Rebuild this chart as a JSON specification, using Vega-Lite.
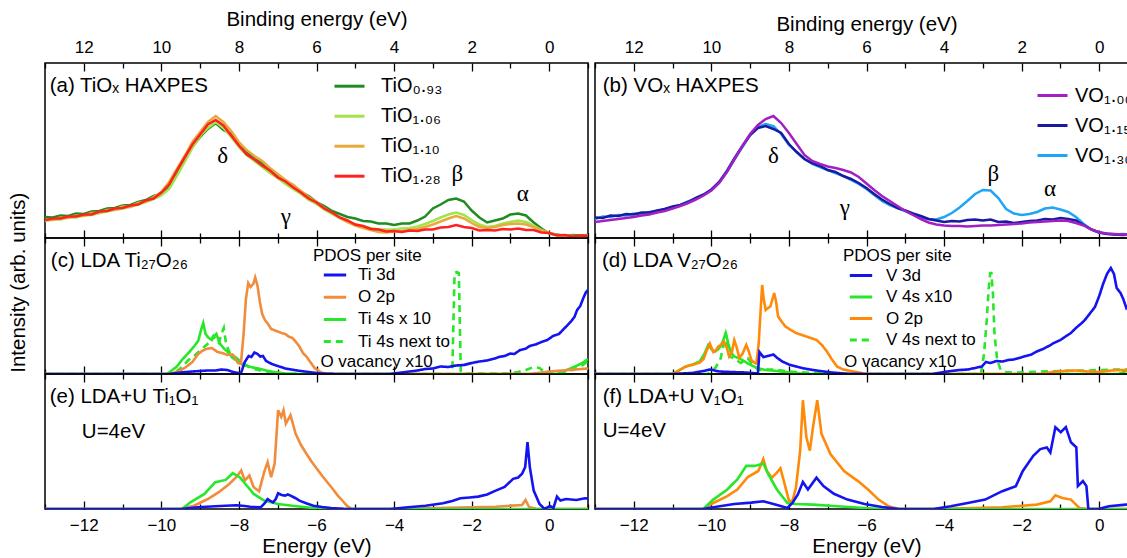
{
"$schema":"https://vega.github.io/schema/vega-lite/v6.json",
"background":"white",
"padding":{"left":9,"top":8,"right":0,"bottom":0},
"title":{"text":"Intensity (arb. units)","orient":"left","anchor":"middle","fontSize":20.5,"fontWeight":"normal","font":"Liberation Sans","color":"#000","offset":14},
"config":{
"font":"Liberation Sans",
"view":{"stroke":"#000","strokeWidth":1.5},
"axis":{"labelFont":"Liberation Sans","titleFont":"Liberation Sans","labelColor":"#000","titleColor":"#000","titleFontWeight":"normal","tickColor":"#000","tickWidth":1.3,"grid":false,"domain":false,"labelFontSize":17,"titleFontSize":20.5},
"legend":{"labelFont":"Liberation Sans","titleFont":"Liberation Sans","labelColor":"#000","titleColor":"#000","titleFontWeight":"normal","padding":0,"offset":0},
"text":{"color":"#000"}
},
"datasets":{
"notes":[
{"p":"a","k":"title","x":-12.88,"y":152,"t":"(a) TiOₓ HAXPES"},
{"p":"a","k":"greek","x":-8.42,"y":82,"t":"δ"},
{"p":"a","k":"greek","x":-6.79,"y":21,"t":"γ"},
{"p":"a","k":"greek","x":-2.37,"y":64,"t":"β"},
{"p":"a","k":"greek","x":-0.68,"y":44,"t":"α"},
{"p":"b","k":"title","x":-12.8,"y":152,"t":"(b) VOₓ HAXPES"},
{"p":"b","k":"greek","x":-8.4,"y":82,"t":"δ"},
{"p":"b","k":"greek","x":-6.56,"y":30,"t":"γ"},
{"p":"b","k":"greek","x":-2.73,"y":64,"t":"β"},
{"p":"b","k":"greek","x":-1.27,"y":49,"t":"α"},
{"p":"c","k":"title","x":-12.85,"y":113,"t":"(c) LDA Ti₂₇O₂₆"},
{"p":"c","k":"note","x":-5.9,"y":12.5,"t":"O vacancy x10"},
{"p":"d","k":"title","x":-12.82,"y":113,"t":"(d) LDA V₂₇O₂₆"},
{"p":"d","k":"note","x":-6.58,"y":12.5,"t":"O vacancy x10"},
{"p":"e","k":"title","x":-12.88,"y":112,"t":"(e) LDA+U Ti₁O₁"},
{"p":"e","k":"note","x":-12.05,"y":77,"t":"U=4eV"},
{"p":"f","k":"title","x":-12.8,"y":112,"t":"(f) LDA+U V₁O₁"},
{"p":"f","k":"note","x":-12.8,"y":78,"t":"U=4eV"}
],
"a":[
{"s":"TiO₀.₉₃","x":-13.0,"y":21},{"s":"TiO₀.₉₃","x":-12.8,"y":20.5},{"s":"TiO₀.₉₃","x":-12.6,"y":22.5},{"s":"TiO₀.₉₃","x":-12.4,"y":22},{"s":"TiO₀.₉₃","x":-12.2,"y":24.5},{"s":"TiO₀.₉₃","x":-12.0,"y":24},{"s":"TiO₀.₉₃","x":-11.8,"y":26.5},{"s":"TiO₀.₉₃","x":-11.6,"y":27},{"s":"TiO₀.₉₃","x":-11.4,"y":29.5},{"s":"TiO₀.₉₃","x":-11.2,"y":30},{"s":"TiO₀.₉₃","x":-11.0,"y":32.5},{"s":"TiO₀.₉₃","x":-10.8,"y":33},{"s":"TiO₀.₉₃","x":-10.6,"y":36},{"s":"TiO₀.₉₃","x":-10.4,"y":38},{"s":"TiO₀.₉₃","x":-10.2,"y":42},{"s":"TiO₀.₉₃","x":-10.0,"y":44},{"s":"TiO₀.₉₃","x":-9.8,"y":50},{"s":"TiO₀.₉₃","x":-9.6,"y":63},{"s":"TiO₀.₉₃","x":-9.4,"y":77},{"s":"TiO₀.₉₃","x":-9.2,"y":91},{"s":"TiO₀.₉₃","x":-9.0,"y":101},{"s":"TiO₀.₉₃","x":-8.8,"y":109},{"s":"TiO₀.₉₃","x":-8.6,"y":115},{"s":"TiO₀.₉₃","x":-8.4,"y":108},{"s":"TiO₀.₉₃","x":-8.2,"y":104},{"s":"TiO₀.₉₃","x":-8.0,"y":92},{"s":"TiO₀.₉₃","x":-7.8,"y":86},{"s":"TiO₀.₉₃","x":-7.6,"y":79},{"s":"TiO₀.₉₃","x":-7.4,"y":75},{"s":"TiO₀.₉₃","x":-7.2,"y":68},{"s":"TiO₀.₉₃","x":-7.0,"y":63},{"s":"TiO₀.₉₃","x":-6.8,"y":57},{"s":"TiO₀.₉₃","x":-6.6,"y":53},{"s":"TiO₀.₉₃","x":-6.4,"y":46},{"s":"TiO₀.₉₃","x":-6.2,"y":42},{"s":"TiO₀.₉₃","x":-6.0,"y":36},{"s":"TiO₀.₉₃","x":-5.8,"y":32},{"s":"TiO₀.₉₃","x":-5.6,"y":27},{"s":"TiO₀.₉₃","x":-5.4,"y":24},{"s":"TiO₀.₉₃","x":-5.2,"y":21},{"s":"TiO₀.₉₃","x":-5.0,"y":19.5},{"s":"TiO₀.₉₃","x":-4.8,"y":17},{"s":"TiO₀.₉₃","x":-4.6,"y":16.5},{"s":"TiO₀.₉₃","x":-4.4,"y":14.5},{"s":"TiO₀.₉₃","x":-4.2,"y":14.5},{"s":"TiO₀.₉₃","x":-4.0,"y":13},{"s":"TiO₀.₉₃","x":-3.8,"y":14.5},{"s":"TiO₀.₉₃","x":-3.6,"y":14.5},{"s":"TiO₀.₉₃","x":-3.4,"y":17.5},{"s":"TiO₀.₉₃","x":-3.2,"y":21.5},{"s":"TiO₀.₉₃","x":-3.0,"y":29.5},{"s":"TiO₀.₉₃","x":-2.8,"y":33.5},{"s":"TiO₀.₉₃","x":-2.6,"y":38},{"s":"TiO₀.₉₃","x":-2.4,"y":39.5},{"s":"TiO₀.₉₃","x":-2.2,"y":36.5},{"s":"TiO₀.₉₃","x":-2.0,"y":27.5},{"s":"TiO₀.₉₃","x":-1.8,"y":20.5},{"s":"TiO₀.₉₃","x":-1.6,"y":15.5},{"s":"TiO₀.₉₃","x":-1.4,"y":17.5},{"s":"TiO₀.₉₃","x":-1.2,"y":19.5},{"s":"TiO₀.₉₃","x":-1.0,"y":23.5},{"s":"TiO₀.₉₃","x":-0.8,"y":24.5},{"s":"TiO₀.₉₃","x":-0.6,"y":22.5},{"s":"TiO₀.₉₃","x":-0.4,"y":15.5},{"s":"TiO₀.₉₃","x":-0.2,"y":9.5},{"s":"TiO₀.₉₃","x":0.0,"y":4.5},{"s":"TiO₀.₉₃","x":0.2,"y":3.5},{"s":"TiO₀.₉₃","x":0.4,"y":2},{"s":"TiO₀.₉₃","x":0.6,"y":3},{"s":"TiO₀.₉₃","x":0.8,"y":2.5},{"s":"TiO₀.₉₃","x":1.0,"y":3},
{"s":"TiO₁.₀₆","x":-13.0,"y":17},{"s":"TiO₁.₀₆","x":-12.8,"y":18.5},{"s":"TiO₁.₀₆","x":-12.6,"y":18.5},{"s":"TiO₁.₀₆","x":-12.4,"y":20.5},{"s":"TiO₁.₀₆","x":-12.2,"y":20.5},{"s":"TiO₁.₀₆","x":-12.0,"y":22.5},{"s":"TiO₁.₀₆","x":-11.8,"y":23},{"s":"TiO₁.₀₆","x":-11.6,"y":25},{"s":"TiO₁.₀₆","x":-11.4,"y":26.5},{"s":"TiO₁.₀₆","x":-11.2,"y":28},{"s":"TiO₁.₀₆","x":-11.0,"y":29.5},{"s":"TiO₁.₀₆","x":-10.8,"y":31},{"s":"TiO₁.₀₆","x":-10.6,"y":33.5},{"s":"TiO₁.₀₆","x":-10.4,"y":36},{"s":"TiO₁.₀₆","x":-10.2,"y":39},{"s":"TiO₁.₀₆","x":-10.0,"y":42.5},{"s":"TiO₁.₀₆","x":-9.8,"y":49},{"s":"TiO₁.₀₆","x":-9.6,"y":62},{"s":"TiO₁.₀₆","x":-9.4,"y":76},{"s":"TiO₁.₀₆","x":-9.2,"y":90},{"s":"TiO₁.₀₆","x":-9.0,"y":102},{"s":"TiO₁.₀₆","x":-8.8,"y":110},{"s":"TiO₁.₀₆","x":-8.6,"y":116},{"s":"TiO₁.₀₆","x":-8.4,"y":110},{"s":"TiO₁.₀₆","x":-8.2,"y":101},{"s":"TiO₁.₀₆","x":-8.0,"y":91},{"s":"TiO₁.₀₆","x":-7.8,"y":83},{"s":"TiO₁.₀₆","x":-7.6,"y":77},{"s":"TiO₁.₀₆","x":-7.4,"y":71},{"s":"TiO₁.₀₆","x":-7.2,"y":65},{"s":"TiO₁.₀₆","x":-7.0,"y":60},{"s":"TiO₁.₀₆","x":-6.8,"y":54},{"s":"TiO₁.₀₆","x":-6.6,"y":49},{"s":"TiO₁.₀₆","x":-6.4,"y":44},{"s":"TiO₁.₀₆","x":-6.2,"y":38},{"s":"TiO₁.₀₆","x":-6.0,"y":34},{"s":"TiO₁.₀₆","x":-5.8,"y":28.5},{"s":"TiO₁.₀₆","x":-5.6,"y":24},{"s":"TiO₁.₀₆","x":-5.4,"y":20},{"s":"TiO₁.₀₆","x":-5.2,"y":16.5},{"s":"TiO₁.₀₆","x":-5.0,"y":13.5},{"s":"TiO₁.₀₆","x":-4.8,"y":11.5},{"s":"TiO₁.₀₆","x":-4.6,"y":10},{"s":"TiO₁.₀₆","x":-4.4,"y":8.5},{"s":"TiO₁.₀₆","x":-4.2,"y":8.5},{"s":"TiO₁.₀₆","x":-4.0,"y":8.5},{"s":"TiO₁.₀₆","x":-3.8,"y":9.5},{"s":"TiO₁.₀₆","x":-3.6,"y":10},{"s":"TiO₁.₀₆","x":-3.4,"y":11.5},{"s":"TiO₁.₀₆","x":-3.2,"y":14},{"s":"TiO₁.₀₆","x":-3.0,"y":17},{"s":"TiO₁.₀₆","x":-2.8,"y":20.5},{"s":"TiO₁.₀₆","x":-2.6,"y":23.5},{"s":"TiO₁.₀₆","x":-2.4,"y":25.5},{"s":"TiO₁.₀₆","x":-2.2,"y":23},{"s":"TiO₁.₀₆","x":-2.0,"y":18},{"s":"TiO₁.₀₆","x":-1.8,"y":13.5},{"s":"TiO₁.₀₆","x":-1.6,"y":11},{"s":"TiO₁.₀₆","x":-1.4,"y":12},{"s":"TiO₁.₀₆","x":-1.2,"y":14.5},{"s":"TiO₁.₀₆","x":-1.0,"y":16},{"s":"TiO₁.₀₆","x":-0.8,"y":17.5},{"s":"TiO₁.₀₆","x":-0.6,"y":16},{"s":"TiO₁.₀₆","x":-0.4,"y":12.5},{"s":"TiO₁.₀₆","x":-0.2,"y":8},{"s":"TiO₁.₀₆","x":0.0,"y":5},{"s":"TiO₁.₀₆","x":0.2,"y":3},{"s":"TiO₁.₀₆","x":0.4,"y":2},{"s":"TiO₁.₀₆","x":0.6,"y":2},{"s":"TiO₁.₀₆","x":0.8,"y":1.5},{"s":"TiO₁.₀₆","x":1.0,"y":2},
{"s":"TiO₁.₁₀","x":-13.0,"y":18},{"s":"TiO₁.₁₀","x":-12.8,"y":18},{"s":"TiO₁.₁₀","x":-12.6,"y":20.5},{"s":"TiO₁.₁₀","x":-12.4,"y":20},{"s":"TiO₁.₁₀","x":-12.2,"y":22.5},{"s":"TiO₁.₁₀","x":-12.0,"y":22},{"s":"TiO₁.₁₀","x":-11.8,"y":25},{"s":"TiO₁.₁₀","x":-11.6,"y":25.5},{"s":"TiO₁.₁₀","x":-11.4,"y":28},{"s":"TiO₁.₁₀","x":-11.2,"y":28.5},{"s":"TiO₁.₁₀","x":-11.0,"y":31.5},{"s":"TiO₁.₁₀","x":-10.8,"y":31.5},{"s":"TiO₁.₁₀","x":-10.6,"y":35},{"s":"TiO₁.₁₀","x":-10.4,"y":36.5},{"s":"TiO₁.₁₀","x":-10.2,"y":41},{"s":"TiO₁.₁₀","x":-10.0,"y":46},{"s":"TiO₁.₁₀","x":-9.8,"y":56},{"s":"TiO₁.₁₀","x":-9.6,"y":69},{"s":"TiO₁.₁₀","x":-9.4,"y":82},{"s":"TiO₁.₁₀","x":-9.2,"y":96},{"s":"TiO₁.₁₀","x":-9.0,"y":106},{"s":"TiO₁.₁₀","x":-8.8,"y":116},{"s":"TiO₁.₁₀","x":-8.6,"y":122},{"s":"TiO₁.₁₀","x":-8.4,"y":116},{"s":"TiO₁.₁₀","x":-8.2,"y":107},{"s":"TiO₁.₁₀","x":-8.0,"y":96},{"s":"TiO₁.₁₀","x":-7.8,"y":88},{"s":"TiO₁.₁₀","x":-7.6,"y":82},{"s":"TiO₁.₁₀","x":-7.4,"y":77},{"s":"TiO₁.₁₀","x":-7.2,"y":70},{"s":"TiO₁.₁₀","x":-7.0,"y":64},{"s":"TiO₁.₁₀","x":-6.8,"y":58},{"s":"TiO₁.₁₀","x":-6.6,"y":53},{"s":"TiO₁.₁₀","x":-6.4,"y":47},{"s":"TiO₁.₁₀","x":-6.2,"y":41},{"s":"TiO₁.₁₀","x":-6.0,"y":36},{"s":"TiO₁.₁₀","x":-5.8,"y":30},{"s":"TiO₁.₁₀","x":-5.6,"y":25},{"s":"TiO₁.₁₀","x":-5.4,"y":20},{"s":"TiO₁.₁₀","x":-5.2,"y":16},{"s":"TiO₁.₁₀","x":-5.0,"y":12.5},{"s":"TiO₁.₁₀","x":-4.8,"y":10},{"s":"TiO₁.₁₀","x":-4.6,"y":8},{"s":"TiO₁.₁₀","x":-4.4,"y":6},{"s":"TiO₁.₁₀","x":-4.2,"y":5.5},{"s":"TiO₁.₁₀","x":-4.0,"y":6.5},{"s":"TiO₁.₁₀","x":-3.8,"y":7},{"s":"TiO₁.₁₀","x":-3.6,"y":8},{"s":"TiO₁.₁₀","x":-3.4,"y":9},{"s":"TiO₁.₁₀","x":-3.2,"y":11},{"s":"TiO₁.₁₀","x":-3.0,"y":13.5},{"s":"TiO₁.₁₀","x":-2.8,"y":16.5},{"s":"TiO₁.₁₀","x":-2.6,"y":19.5},{"s":"TiO₁.₁₀","x":-2.4,"y":22},{"s":"TiO₁.₁₀","x":-2.2,"y":19.5},{"s":"TiO₁.₁₀","x":-2.0,"y":15},{"s":"TiO₁.₁₀","x":-1.8,"y":11},{"s":"TiO₁.₁₀","x":-1.6,"y":10},{"s":"TiO₁.₁₀","x":-1.4,"y":11},{"s":"TiO₁.₁₀","x":-1.2,"y":13},{"s":"TiO₁.₁₀","x":-1.0,"y":14},{"s":"TiO₁.₁₀","x":-0.8,"y":14.5},{"s":"TiO₁.₁₀","x":-0.6,"y":13.5},{"s":"TiO₁.₁₀","x":-0.4,"y":11},{"s":"TiO₁.₁₀","x":-0.2,"y":7.5},{"s":"TiO₁.₁₀","x":0.0,"y":5},{"s":"TiO₁.₁₀","x":0.2,"y":3},{"s":"TiO₁.₁₀","x":0.4,"y":2.5},{"s":"TiO₁.₁₀","x":0.6,"y":2},{"s":"TiO₁.₁₀","x":0.8,"y":2},{"s":"TiO₁.₁₀","x":1.0,"y":2.5},
{"s":"TiO₁.₂₈","x":-13.0,"y":18},{"s":"TiO₁.₂₈","x":-12.8,"y":19.5},{"s":"TiO₁.₂₈","x":-12.6,"y":19.5},{"s":"TiO₁.₂₈","x":-12.4,"y":21.5},{"s":"TiO₁.₂₈","x":-12.2,"y":21.5},{"s":"TiO₁.₂₈","x":-12.0,"y":23.5},{"s":"TiO₁.₂₈","x":-11.8,"y":23.5},{"s":"TiO₁.₂₈","x":-11.6,"y":26.5},{"s":"TiO₁.₂₈","x":-11.4,"y":27},{"s":"TiO₁.₂₈","x":-11.2,"y":29.5},{"s":"TiO₁.₂₈","x":-11.0,"y":30},{"s":"TiO₁.₂₈","x":-10.8,"y":32.5},{"s":"TiO₁.₂₈","x":-10.6,"y":33.5},{"s":"TiO₁.₂₈","x":-10.4,"y":37.5},{"s":"TiO₁.₂₈","x":-10.2,"y":39.5},{"s":"TiO₁.₂₈","x":-10.0,"y":45.5},{"s":"TiO₁.₂₈","x":-9.8,"y":53.5},{"s":"TiO₁.₂₈","x":-9.6,"y":67.5},{"s":"TiO₁.₂₈","x":-9.4,"y":80.5},{"s":"TiO₁.₂₈","x":-9.2,"y":93.5},{"s":"TiO₁.₂₈","x":-9.0,"y":103.5},{"s":"TiO₁.₂₈","x":-8.8,"y":113.5},{"s":"TiO₁.₂₈","x":-8.6,"y":118},{"s":"TiO₁.₂₈","x":-8.4,"y":112.5},{"s":"TiO₁.₂₈","x":-8.2,"y":102.5},{"s":"TiO₁.₂₈","x":-8.0,"y":92.5},{"s":"TiO₁.₂₈","x":-7.8,"y":83.5},{"s":"TiO₁.₂₈","x":-7.6,"y":78.5},{"s":"TiO₁.₂₈","x":-7.4,"y":72.5},{"s":"TiO₁.₂₈","x":-7.2,"y":67.5},{"s":"TiO₁.₂₈","x":-7.0,"y":60.5},{"s":"TiO₁.₂₈","x":-6.8,"y":56.5},{"s":"TiO₁.₂₈","x":-6.6,"y":50.5},{"s":"TiO₁.₂₈","x":-6.4,"y":45.5},{"s":"TiO₁.₂₈","x":-6.2,"y":39.5},{"s":"TiO₁.₂₈","x":-6.0,"y":35.5},{"s":"TiO₁.₂₈","x":-5.8,"y":29.5},{"s":"TiO₁.₂₈","x":-5.6,"y":25.5},{"s":"TiO₁.₂₈","x":-5.4,"y":20.5},{"s":"TiO₁.₂₈","x":-5.2,"y":17.5},{"s":"TiO₁.₂₈","x":-5.0,"y":13.5},{"s":"TiO₁.₂₈","x":-4.8,"y":12},{"s":"TiO₁.₂₈","x":-4.6,"y":9},{"s":"TiO₁.₂₈","x":-4.4,"y":8.5},{"s":"TiO₁.₂₈","x":-4.2,"y":6.5},{"s":"TiO₁.₂₈","x":-4.0,"y":7},{"s":"TiO₁.₂₈","x":-3.8,"y":6},{"s":"TiO₁.₂₈","x":-3.6,"y":7.5},{"s":"TiO₁.₂₈","x":-3.4,"y":7},{"s":"TiO₁.₂₈","x":-3.2,"y":8.5},{"s":"TiO₁.₂₈","x":-3.0,"y":8.5},{"s":"TiO₁.₂₈","x":-2.8,"y":10.5},{"s":"TiO₁.₂₈","x":-2.6,"y":11},{"s":"TiO₁.₂₈","x":-2.4,"y":13},{"s":"TiO₁.₂₈","x":-2.2,"y":11},{"s":"TiO₁.₂₈","x":-2.0,"y":10},{"s":"TiO₁.₂₈","x":-1.8,"y":7.5},{"s":"TiO₁.₂₈","x":-1.6,"y":8},{"s":"TiO₁.₂₈","x":-1.4,"y":7.5},{"s":"TiO₁.₂₈","x":-1.2,"y":9},{"s":"TiO₁.₂₈","x":-1.0,"y":8.5},{"s":"TiO₁.₂₈","x":-0.8,"y":9.5},{"s":"TiO₁.₂₈","x":-0.6,"y":8},{"s":"TiO₁.₂₈","x":-0.4,"y":8},{"s":"TiO₁.₂₈","x":-0.2,"y":5.5},{"s":"TiO₁.₂₈","x":0.0,"y":5},{"s":"TiO₁.₂₈","x":0.2,"y":2.5},{"s":"TiO₁.₂₈","x":0.4,"y":3},{"s":"TiO₁.₂₈","x":0.6,"y":1.5},{"s":"TiO₁.₂₈","x":0.8,"y":2.5},{"s":"TiO₁.₂₈","x":1.0,"y":2}
],
"b":[
{"s":"VO₁.₃₀","x":-13.0,"y":19},{"s":"VO₁.₃₀","x":-12.8,"y":21.5},{"s":"VO₁.₃₀","x":-12.6,"y":21},{"s":"VO₁.₃₀","x":-12.4,"y":23},{"s":"VO₁.₃₀","x":-12.2,"y":22.5},{"s":"VO₁.₃₀","x":-12.0,"y":24.5},{"s":"VO₁.₃₀","x":-11.8,"y":24},{"s":"VO₁.₃₀","x":-11.6,"y":26},{"s":"VO₁.₃₀","x":-11.4,"y":26.5},{"s":"VO₁.₃₀","x":-11.2,"y":29},{"s":"VO₁.₃₀","x":-11.0,"y":30.5},{"s":"VO₁.₃₀","x":-10.8,"y":33},{"s":"VO₁.₃₀","x":-10.6,"y":36.5},{"s":"VO₁.₃₀","x":-10.4,"y":39.5},{"s":"VO₁.₃₀","x":-10.2,"y":43},{"s":"VO₁.₃₀","x":-10.0,"y":48},{"s":"VO₁.₃₀","x":-9.8,"y":55},{"s":"VO₁.₃₀","x":-9.6,"y":66},{"s":"VO₁.₃₀","x":-9.4,"y":79},{"s":"VO₁.₃₀","x":-9.2,"y":91},{"s":"VO₁.₃₀","x":-9.0,"y":103},{"s":"VO₁.₃₀","x":-8.8,"y":111},{"s":"VO₁.₃₀","x":-8.6,"y":114},{"s":"VO₁.₃₀","x":-8.4,"y":112},{"s":"VO₁.₃₀","x":-8.2,"y":104},{"s":"VO₁.₃₀","x":-8.0,"y":93},{"s":"VO₁.₃₀","x":-7.8,"y":86},{"s":"VO₁.₃₀","x":-7.6,"y":79},{"s":"VO₁.₃₀","x":-7.4,"y":74},{"s":"VO₁.₃₀","x":-7.2,"y":71},{"s":"VO₁.₃₀","x":-7.0,"y":68},{"s":"VO₁.₃₀","x":-6.8,"y":65},{"s":"VO₁.₃₀","x":-6.6,"y":62},{"s":"VO₁.₃₀","x":-6.4,"y":58},{"s":"VO₁.₃₀","x":-6.2,"y":54},{"s":"VO₁.₃₀","x":-6.0,"y":49},{"s":"VO₁.₃₀","x":-5.8,"y":43},{"s":"VO₁.₃₀","x":-5.6,"y":37},{"s":"VO₁.₃₀","x":-5.4,"y":33},{"s":"VO₁.₃₀","x":-5.2,"y":30},{"s":"VO₁.₃₀","x":-5.0,"y":27},{"s":"VO₁.₃₀","x":-4.8,"y":23.5},{"s":"VO₁.₃₀","x":-4.6,"y":20.5},{"s":"VO₁.₃₀","x":-4.4,"y":19},{"s":"VO₁.₃₀","x":-4.2,"y":18.5},{"s":"VO₁.₃₀","x":-4.0,"y":21},{"s":"VO₁.₃₀","x":-3.8,"y":25},{"s":"VO₁.₃₀","x":-3.6,"y":30.5},{"s":"VO₁.₃₀","x":-3.4,"y":37},{"s":"VO₁.₃₀","x":-3.2,"y":44},{"s":"VO₁.₃₀","x":-3.0,"y":48},{"s":"VO₁.₃₀","x":-2.8,"y":47.5},{"s":"VO₁.₃₀","x":-2.6,"y":40},{"s":"VO₁.₃₀","x":-2.4,"y":29},{"s":"VO₁.₃₀","x":-2.2,"y":24.5},{"s":"VO₁.₃₀","x":-2.0,"y":23},{"s":"VO₁.₃₀","x":-1.8,"y":24},{"s":"VO₁.₃₀","x":-1.6,"y":26},{"s":"VO₁.₃₀","x":-1.4,"y":29.5},{"s":"VO₁.₃₀","x":-1.2,"y":30.5},{"s":"VO₁.₃₀","x":-1.0,"y":28.5},{"s":"VO₁.₃₀","x":-0.8,"y":26},{"s":"VO₁.₃₀","x":-0.6,"y":21},{"s":"VO₁.₃₀","x":-0.4,"y":14},{"s":"VO₁.₃₀","x":-0.2,"y":8.5},{"s":"VO₁.₃₀","x":0.0,"y":5.5},{"s":"VO₁.₃₀","x":0.2,"y":4.5},{"s":"VO₁.₃₀","x":0.4,"y":3.5},{"s":"VO₁.₃₀","x":0.6,"y":4},{"s":"VO₁.₃₀","x":0.8,"y":3.5},{"s":"VO₁.₃₀","x":1.0,"y":3},
{"s":"VO₁.₁₅","x":-13.0,"y":20.5},{"s":"VO₁.₁₅","x":-12.8,"y":20},{"s":"VO₁.₁₅","x":-12.6,"y":22.5},{"s":"VO₁.₁₅","x":-12.4,"y":22},{"s":"VO₁.₁₅","x":-12.2,"y":24},{"s":"VO₁.₁₅","x":-12.0,"y":23.5},{"s":"VO₁.₁₅","x":-11.8,"y":25.5},{"s":"VO₁.₁₅","x":-11.6,"y":25.5},{"s":"VO₁.₁₅","x":-11.4,"y":27.5},{"s":"VO₁.₁₅","x":-11.2,"y":29},{"s":"VO₁.₁₅","x":-11.0,"y":31.5},{"s":"VO₁.₁₅","x":-10.8,"y":33},{"s":"VO₁.₁₅","x":-10.6,"y":36},{"s":"VO₁.₁₅","x":-10.4,"y":40},{"s":"VO₁.₁₅","x":-10.2,"y":43.5},{"s":"VO₁.₁₅","x":-10.0,"y":48.5},{"s":"VO₁.₁₅","x":-9.8,"y":56},{"s":"VO₁.₁₅","x":-9.6,"y":67},{"s":"VO₁.₁₅","x":-9.4,"y":80},{"s":"VO₁.₁₅","x":-9.2,"y":92},{"s":"VO₁.₁₅","x":-9.0,"y":103},{"s":"VO₁.₁₅","x":-8.8,"y":110},{"s":"VO₁.₁₅","x":-8.6,"y":112},{"s":"VO₁.₁₅","x":-8.4,"y":109},{"s":"VO₁.₁₅","x":-8.2,"y":105},{"s":"VO₁.₁₅","x":-8.0,"y":94},{"s":"VO₁.₁₅","x":-7.8,"y":86},{"s":"VO₁.₁₅","x":-7.6,"y":79},{"s":"VO₁.₁₅","x":-7.4,"y":75},{"s":"VO₁.₁₅","x":-7.2,"y":72},{"s":"VO₁.₁₅","x":-7.0,"y":68},{"s":"VO₁.₁₅","x":-6.8,"y":66},{"s":"VO₁.₁₅","x":-6.6,"y":62},{"s":"VO₁.₁₅","x":-6.4,"y":59},{"s":"VO₁.₁₅","x":-6.2,"y":55},{"s":"VO₁.₁₅","x":-6.0,"y":50},{"s":"VO₁.₁₅","x":-5.8,"y":44},{"s":"VO₁.₁₅","x":-5.6,"y":38.5},{"s":"VO₁.₁₅","x":-5.4,"y":34},{"s":"VO₁.₁₅","x":-5.2,"y":30},{"s":"VO₁.₁₅","x":-5.0,"y":27.5},{"s":"VO₁.₁₅","x":-4.8,"y":24.5},{"s":"VO₁.₁₅","x":-4.6,"y":22},{"s":"VO₁.₁₅","x":-4.4,"y":19},{"s":"VO₁.₁₅","x":-4.2,"y":17.5},{"s":"VO₁.₁₅","x":-4.0,"y":16},{"s":"VO₁.₁₅","x":-3.8,"y":17},{"s":"VO₁.₁₅","x":-3.6,"y":16.5},{"s":"VO₁.₁₅","x":-3.4,"y":18},{"s":"VO₁.₁₅","x":-3.2,"y":18.5},{"s":"VO₁.₁₅","x":-3.0,"y":17.5},{"s":"VO₁.₁₅","x":-2.8,"y":18.5},{"s":"VO₁.₁₅","x":-2.6,"y":16},{"s":"VO₁.₁₅","x":-2.4,"y":16.5},{"s":"VO₁.₁₅","x":-2.2,"y":15},{"s":"VO₁.₁₅","x":-2.0,"y":16},{"s":"VO₁.₁₅","x":-1.8,"y":17},{"s":"VO₁.₁₅","x":-1.6,"y":17.5},{"s":"VO₁.₁₅","x":-1.4,"y":19},{"s":"VO₁.₁₅","x":-1.2,"y":18.5},{"s":"VO₁.₁₅","x":-1.0,"y":20},{"s":"VO₁.₁₅","x":-0.8,"y":19},{"s":"VO₁.₁₅","x":-0.6,"y":17.5},{"s":"VO₁.₁₅","x":-0.4,"y":13},{"s":"VO₁.₁₅","x":-0.2,"y":8.5},{"s":"VO₁.₁₅","x":0.0,"y":5.5},{"s":"VO₁.₁₅","x":0.2,"y":4},{"s":"VO₁.₁₅","x":0.4,"y":3.5},{"s":"VO₁.₁₅","x":0.6,"y":3},{"s":"VO₁.₁₅","x":0.8,"y":3.5},{"s":"VO₁.₁₅","x":1.0,"y":3},
{"s":"VO₁.₀₀","x":-13.0,"y":16},{"s":"VO₁.₀₀","x":-12.8,"y":17},{"s":"VO₁.₀₀","x":-12.6,"y":18},{"s":"VO₁.₀₀","x":-12.4,"y":19},{"s":"VO₁.₀₀","x":-12.2,"y":20},{"s":"VO₁.₀₀","x":-12.0,"y":21},{"s":"VO₁.₀₀","x":-11.8,"y":22.5},{"s":"VO₁.₀₀","x":-11.6,"y":23.5},{"s":"VO₁.₀₀","x":-11.4,"y":25.5},{"s":"VO₁.₀₀","x":-11.2,"y":27},{"s":"VO₁.₀₀","x":-11.0,"y":29.5},{"s":"VO₁.₀₀","x":-10.8,"y":32},{"s":"VO₁.₀₀","x":-10.6,"y":35},{"s":"VO₁.₀₀","x":-10.4,"y":38.5},{"s":"VO₁.₀₀","x":-10.2,"y":42.5},{"s":"VO₁.₀₀","x":-10.0,"y":47.5},{"s":"VO₁.₀₀","x":-9.8,"y":55},{"s":"VO₁.₀₀","x":-9.6,"y":66},{"s":"VO₁.₀₀","x":-9.4,"y":79},{"s":"VO₁.₀₀","x":-9.2,"y":92},{"s":"VO₁.₀₀","x":-9.0,"y":104},{"s":"VO₁.₀₀","x":-8.8,"y":113},{"s":"VO₁.₀₀","x":-8.6,"y":119},{"s":"VO₁.₀₀","x":-8.4,"y":122},{"s":"VO₁.₀₀","x":-8.2,"y":115},{"s":"VO₁.₀₀","x":-8.0,"y":105},{"s":"VO₁.₀₀","x":-7.8,"y":94},{"s":"VO₁.₀₀","x":-7.6,"y":83},{"s":"VO₁.₀₀","x":-7.4,"y":77},{"s":"VO₁.₀₀","x":-7.2,"y":74},{"s":"VO₁.₀₀","x":-7.0,"y":71.5},{"s":"VO₁.₀₀","x":-6.8,"y":70},{"s":"VO₁.₀₀","x":-6.6,"y":68},{"s":"VO₁.₀₀","x":-6.4,"y":65.5},{"s":"VO₁.₀₀","x":-6.2,"y":61},{"s":"VO₁.₀₀","x":-6.0,"y":54.5},{"s":"VO₁.₀₀","x":-5.8,"y":48},{"s":"VO₁.₀₀","x":-5.6,"y":42},{"s":"VO₁.₀₀","x":-5.4,"y":37},{"s":"VO₁.₀₀","x":-5.2,"y":32},{"s":"VO₁.₀₀","x":-5.0,"y":27},{"s":"VO₁.₀₀","x":-4.8,"y":23},{"s":"VO₁.₀₀","x":-4.6,"y":19},{"s":"VO₁.₀₀","x":-4.4,"y":15.5},{"s":"VO₁.₀₀","x":-4.2,"y":13.5},{"s":"VO₁.₀₀","x":-4.0,"y":12.5},{"s":"VO₁.₀₀","x":-3.8,"y":12},{"s":"VO₁.₀₀","x":-3.6,"y":12},{"s":"VO₁.₀₀","x":-3.4,"y":11.5},{"s":"VO₁.₀₀","x":-3.2,"y":12},{"s":"VO₁.₀₀","x":-3.0,"y":12.5},{"s":"VO₁.₀₀","x":-2.8,"y":12.5},{"s":"VO₁.₀₀","x":-2.6,"y":13},{"s":"VO₁.₀₀","x":-2.4,"y":13.5},{"s":"VO₁.₀₀","x":-2.2,"y":14},{"s":"VO₁.₀₀","x":-2.0,"y":14.5},{"s":"VO₁.₀₀","x":-1.8,"y":15.5},{"s":"VO₁.₀₀","x":-1.6,"y":16},{"s":"VO₁.₀₀","x":-1.4,"y":16.5},{"s":"VO₁.₀₀","x":-1.2,"y":17},{"s":"VO₁.₀₀","x":-1.0,"y":17.5},{"s":"VO₁.₀₀","x":-0.8,"y":17},{"s":"VO₁.₀₀","x":-0.6,"y":15},{"s":"VO₁.₀₀","x":-0.4,"y":12.5},{"s":"VO₁.₀₀","x":-0.2,"y":8.5},{"s":"VO₁.₀₀","x":0.0,"y":5.5},{"s":"VO₁.₀₀","x":0.2,"y":4.5},{"s":"VO₁.₀₀","x":0.4,"y":4},{"s":"VO₁.₀₀","x":0.6,"y":3.5},{"s":"VO₁.₀₀","x":0.8,"y":3},{"s":"VO₁.₀₀","x":1.0,"y":3}
],
"c":[
{"s":"Ti 4s x 10","x":-13,"y":0},{"s":"Ti 4s x 10","x":-9.85,"y":0},{"s":"Ti 4s x 10","x":-9.6,"y":7.5},{"s":"Ti 4s x 10","x":-9.45,"y":15},{"s":"Ti 4s x 10","x":-9.3,"y":21},{"s":"Ti 4s x 10","x":-9.15,"y":28},{"s":"Ti 4s x 10","x":-9.05,"y":33},{"s":"Ti 4s x 10","x":-8.97,"y":45},{"s":"Ti 4s x 10","x":-8.92,"y":51},{"s":"Ti 4s x 10","x":-8.86,"y":40},{"s":"Ti 4s x 10","x":-8.78,"y":36},{"s":"Ti 4s x 10","x":-8.7,"y":34},{"s":"Ti 4s x 10","x":-8.63,"y":38},{"s":"Ti 4s x 10","x":-8.58,"y":40},{"s":"Ti 4s x 10","x":-8.5,"y":31},{"s":"Ti 4s x 10","x":-8.4,"y":26},{"s":"Ti 4s x 10","x":-8.3,"y":22.5},{"s":"Ti 4s x 10","x":-8.16,"y":16},{"s":"Ti 4s x 10","x":-8.0,"y":12},{"s":"Ti 4s x 10","x":-7.88,"y":9},{"s":"Ti 4s x 10","x":-7.7,"y":7},{"s":"Ti 4s x 10","x":-7.5,"y":5.5},{"s":"Ti 4s x 10","x":-7.3,"y":3.5},{"s":"Ti 4s x 10","x":-7.1,"y":2},{"s":"Ti 4s x 10","x":-6.8,"y":0.5},{"s":"Ti 4s x 10","x":-6.5,"y":0},{"s":"Ti 4s x 10","x":0.2,"y":0},{"s":"Ti 4s x 10","x":0.45,"y":4},{"s":"Ti 4s x 10","x":0.7,"y":8},{"s":"Ti 4s x 10","x":0.85,"y":11},{"s":"Ti 4s x 10","x":1.0,"y":15},
{"s":"Ti 4s next to","x":-13,"y":0},{"s":"Ti 4s next to","x":-9.7,"y":0},{"s":"Ti 4s next to","x":-9.5,"y":6},{"s":"Ti 4s next to","x":-9.3,"y":14},{"s":"Ti 4s next to","x":-9.1,"y":20},{"s":"Ti 4s next to","x":-8.9,"y":27},{"s":"Ti 4s next to","x":-8.75,"y":32},{"s":"Ti 4s next to","x":-8.66,"y":38},{"s":"Ti 4s next to","x":-8.58,"y":33},{"s":"Ti 4s next to","x":-8.52,"y":31},{"s":"Ti 4s next to","x":-8.45,"y":40},{"s":"Ti 4s next to","x":-8.39,"y":46},{"s":"Ti 4s next to","x":-8.33,"y":30},{"s":"Ti 4s next to","x":-8.25,"y":22},{"s":"Ti 4s next to","x":-8.16,"y":19},{"s":"Ti 4s next to","x":-8.0,"y":14},{"s":"Ti 4s next to","x":-7.89,"y":11},{"s":"Ti 4s next to","x":-7.7,"y":6},{"s":"Ti 4s next to","x":-7.5,"y":4},{"s":"Ti 4s next to","x":-7.2,"y":2},{"s":"Ti 4s next to","x":-6.8,"y":0.5},{"s":"Ti 4s next to","x":-6.5,"y":0},{"s":"Ti 4s next to","x":-2.5,"y":0},{"s":"Ti 4s next to","x":-2.44,"y":101},{"s":"Ti 4s next to","x":-2.38,"y":102},{"s":"Ti 4s next to","x":-2.33,"y":101},{"s":"Ti 4s next to","x":-2.28,"y":3},{"s":"Ti 4s next to","x":-2.2,"y":0.5},{"s":"Ti 4s next to","x":-1.0,"y":0.5},{"s":"Ti 4s next to","x":-0.8,"y":2},{"s":"Ti 4s next to","x":-0.6,"y":4},{"s":"Ti 4s next to","x":-0.4,"y":7},{"s":"Ti 4s next to","x":-0.25,"y":6},{"s":"Ti 4s next to","x":-0.1,"y":1},{"s":"Ti 4s next to","x":0.2,"y":0},{"s":"Ti 4s next to","x":0.4,"y":2},{"s":"Ti 4s next to","x":0.6,"y":4},{"s":"Ti 4s next to","x":0.8,"y":7},{"s":"Ti 4s next to","x":1.0,"y":13},
{"s":"O 2p","x":-13,"y":0},{"s":"O 2p","x":-9.8,"y":0},{"s":"O 2p","x":-9.6,"y":2},{"s":"O 2p","x":-9.4,"y":6},{"s":"O 2p","x":-9.2,"y":12},{"s":"O 2p","x":-9.05,"y":20},{"s":"O 2p","x":-8.95,"y":23},{"s":"O 2p","x":-8.85,"y":25},{"s":"O 2p","x":-8.7,"y":26},{"s":"O 2p","x":-8.55,"y":22},{"s":"O 2p","x":-8.43,"y":21},{"s":"O 2p","x":-8.3,"y":19},{"s":"O 2p","x":-8.16,"y":19.5},{"s":"O 2p","x":-8.1,"y":16},{"s":"O 2p","x":-8.03,"y":11},{"s":"O 2p","x":-7.95,"y":10},{"s":"O 2p","x":-7.88,"y":40},{"s":"O 2p","x":-7.82,"y":75},{"s":"O 2p","x":-7.76,"y":91},{"s":"O 2p","x":-7.7,"y":87},{"s":"O 2p","x":-7.63,"y":90},{"s":"O 2p","x":-7.58,"y":96.5},{"s":"O 2p","x":-7.52,"y":88},{"s":"O 2p","x":-7.46,"y":72},{"s":"O 2p","x":-7.4,"y":60},{"s":"O 2p","x":-7.33,"y":54},{"s":"O 2p","x":-7.25,"y":50},{"s":"O 2p","x":-7.17,"y":45},{"s":"O 2p","x":-7.1,"y":44},{"s":"O 2p","x":-7.0,"y":42.5},{"s":"O 2p","x":-6.9,"y":41},{"s":"O 2p","x":-6.8,"y":40},{"s":"O 2p","x":-6.72,"y":37.5},{"s":"O 2p","x":-6.62,"y":36},{"s":"O 2p","x":-6.54,"y":32.5},{"s":"O 2p","x":-6.45,"y":28},{"s":"O 2p","x":-6.35,"y":21},{"s":"O 2p","x":-6.25,"y":17},{"s":"O 2p","x":-6.17,"y":12.5},{"s":"O 2p","x":-6.05,"y":6},{"s":"O 2p","x":-5.9,"y":2},{"s":"O 2p","x":-5.8,"y":0.5},{"s":"O 2p","x":-5.5,"y":0},{"s":"O 2p","x":-0.5,"y":0},{"s":"O 2p","x":0,"y":2.5},{"s":"O 2p","x":0.5,"y":4},{"s":"O 2p","x":1.0,"y":5.5},
{"s":"Ti 3d","x":-13,"y":0},{"s":"Ti 3d","x":-9.8,"y":0},{"s":"Ti 3d","x":-9.5,"y":1.5},{"s":"Ti 3d","x":-9.2,"y":2.5},{"s":"Ti 3d","x":-9.0,"y":3},{"s":"Ti 3d","x":-8.8,"y":3.5},{"s":"Ti 3d","x":-8.6,"y":3.5},{"s":"Ti 3d","x":-8.45,"y":4.5},{"s":"Ti 3d","x":-8.3,"y":4},{"s":"Ti 3d","x":-8.15,"y":2},{"s":"Ti 3d","x":-7.95,"y":0.5},{"s":"Ti 3d","x":-7.85,"y":12},{"s":"Ti 3d","x":-7.75,"y":18},{"s":"Ti 3d","x":-7.68,"y":17},{"s":"Ti 3d","x":-7.6,"y":21.5},{"s":"Ti 3d","x":-7.52,"y":20},{"s":"Ti 3d","x":-7.45,"y":17.5},{"s":"Ti 3d","x":-7.38,"y":18},{"s":"Ti 3d","x":-7.3,"y":13},{"s":"Ti 3d","x":-7.15,"y":10},{"s":"Ti 3d","x":-7.0,"y":8},{"s":"Ti 3d","x":-6.8,"y":5.5},{"s":"Ti 3d","x":-6.5,"y":3.5},{"s":"Ti 3d","x":-6.2,"y":2},{"s":"Ti 3d","x":-5.9,"y":0.5},{"s":"Ti 3d","x":-5.5,"y":0},{"s":"Ti 3d","x":-4.1,"y":0},{"s":"Ti 3d","x":-3.8,"y":1.5},{"s":"Ti 3d","x":-3.6,"y":2.5},{"s":"Ti 3d","x":-3.4,"y":3.5},{"s":"Ti 3d","x":-3.2,"y":5},{"s":"Ti 3d","x":-3.0,"y":5.5},{"s":"Ti 3d","x":-2.8,"y":7.5},{"s":"Ti 3d","x":-2.6,"y":7},{"s":"Ti 3d","x":-2.4,"y":8.5},{"s":"Ti 3d","x":-2.2,"y":9},{"s":"Ti 3d","x":-2.0,"y":11},{"s":"Ti 3d","x":-1.8,"y":12.5},{"s":"Ti 3d","x":-1.6,"y":13.5},{"s":"Ti 3d","x":-1.4,"y":15.5},{"s":"Ti 3d","x":-1.3,"y":17},{"s":"Ti 3d","x":-1.15,"y":18},{"s":"Ti 3d","x":-1.0,"y":20.5},{"s":"Ti 3d","x":-0.9,"y":20},{"s":"Ti 3d","x":-0.75,"y":24},{"s":"Ti 3d","x":-0.6,"y":25.5},{"s":"Ti 3d","x":-0.5,"y":28},{"s":"Ti 3d","x":-0.35,"y":29.5},{"s":"Ti 3d","x":-0.2,"y":32},{"s":"Ti 3d","x":-0.05,"y":34},{"s":"Ti 3d","x":0.1,"y":38},{"s":"Ti 3d","x":0.25,"y":40},{"s":"Ti 3d","x":0.35,"y":44},{"s":"Ti 3d","x":0.45,"y":48},{"s":"Ti 3d","x":0.55,"y":52},{"s":"Ti 3d","x":0.65,"y":57},{"s":"Ti 3d","x":0.72,"y":64},{"s":"Ti 3d","x":0.8,"y":68},{"s":"Ti 3d","x":0.88,"y":76},{"s":"Ti 3d","x":0.95,"y":82},{"s":"Ti 3d","x":1.0,"y":84}
],
"d":[
{"s":"V 4s next to","x":-13,"y":0},{"s":"V 4s next to","x":-10.1,"y":0},{"s":"V 4s next to","x":-9.9,"y":6},{"s":"V 4s next to","x":-9.77,"y":14},{"s":"V 4s next to","x":-9.68,"y":30},{"s":"V 4s next to","x":-9.63,"y":41},{"s":"V 4s next to","x":-9.58,"y":28},{"s":"V 4s next to","x":-9.54,"y":18},{"s":"V 4s next to","x":-9.4,"y":15},{"s":"V 4s next to","x":-9.24,"y":11},{"s":"V 4s next to","x":-9.06,"y":15.5},{"s":"V 4s next to","x":-8.9,"y":8},{"s":"V 4s next to","x":-8.79,"y":4},{"s":"V 4s next to","x":-8.5,"y":4.5},{"s":"V 4s next to","x":-8.35,"y":4.5},{"s":"V 4s next to","x":-8.0,"y":2.5},{"s":"V 4s next to","x":-7.82,"y":2},{"s":"V 4s next to","x":-7.4,"y":1},{"s":"V 4s next to","x":-6.93,"y":0.5},{"s":"V 4s next to","x":-6.5,"y":0},{"s":"V 4s next to","x":-3.05,"y":0},{"s":"V 4s next to","x":-2.97,"y":20},{"s":"V 4s next to","x":-2.9,"y":54},{"s":"V 4s next to","x":-2.85,"y":85},{"s":"V 4s next to","x":-2.81,"y":101},{"s":"V 4s next to","x":-2.78,"y":101},{"s":"V 4s next to","x":-2.74,"y":80},{"s":"V 4s next to","x":-2.7,"y":40},{"s":"V 4s next to","x":-2.63,"y":14},{"s":"V 4s next to","x":-2.54,"y":4},{"s":"V 4s next to","x":-2.4,"y":2},{"s":"V 4s next to","x":-2.23,"y":1.3},{"s":"V 4s next to","x":-1.61,"y":2.3},{"s":"V 4s next to","x":-1.2,"y":2.8},{"s":"V 4s next to","x":-0.73,"y":3.3},{"s":"V 4s next to","x":-0.3,"y":3.5},{"s":"V 4s next to","x":0,"y":4},{"s":"V 4s next to","x":0.4,"y":4.5},{"s":"V 4s next to","x":1.0,"y":4.5},
{"s":"V 4s x10","x":-13,"y":0},{"s":"V 4s x10","x":-11.0,"y":0},{"s":"V 4s x10","x":-10.66,"y":7.5},{"s":"V 4s x10","x":-10.45,"y":10},{"s":"V 4s x10","x":-10.3,"y":12.5},{"s":"V 4s x10","x":-10.18,"y":20},{"s":"V 4s x10","x":-10.08,"y":29},{"s":"V 4s x10","x":-9.98,"y":24},{"s":"V 4s x10","x":-9.9,"y":22.5},{"s":"V 4s x10","x":-9.82,"y":25},{"s":"V 4s x10","x":-9.77,"y":27.5},{"s":"V 4s x10","x":-9.7,"y":33},{"s":"V 4s x10","x":-9.63,"y":41},{"s":"V 4s x10","x":-9.56,"y":30},{"s":"V 4s x10","x":-9.5,"y":22},{"s":"V 4s x10","x":-9.41,"y":17.5},{"s":"V 4s x10","x":-9.3,"y":16},{"s":"V 4s x10","x":-9.2,"y":14},{"s":"V 4s x10","x":-9.06,"y":10.5},{"s":"V 4s x10","x":-8.9,"y":7.5},{"s":"V 4s x10","x":-8.79,"y":5.7},{"s":"V 4s x10","x":-8.6,"y":4},{"s":"V 4s x10","x":-8.44,"y":3.5},{"s":"V 4s x10","x":-8.2,"y":2.5},{"s":"V 4s x10","x":-7.82,"y":0.7},{"s":"V 4s x10","x":-7.5,"y":0},{"s":"V 4s x10","x":0.5,"y":0},{"s":"V 4s x10","x":0.7,"y":3},{"s":"V 4s x10","x":1.0,"y":4},
{"s":"O 2p","x":-13,"y":0},{"s":"O 2p","x":-11.0,"y":0},{"s":"O 2p","x":-10.66,"y":7.5},{"s":"O 2p","x":-10.45,"y":9.5},{"s":"O 2p","x":-10.3,"y":11.5},{"s":"O 2p","x":-10.2,"y":15},{"s":"O 2p","x":-10.13,"y":22.5},{"s":"O 2p","x":-10.04,"y":30.5},{"s":"O 2p","x":-9.95,"y":22},{"s":"O 2p","x":-9.88,"y":24},{"s":"O 2p","x":-9.82,"y":27.5},{"s":"O 2p","x":-9.75,"y":29},{"s":"O 2p","x":-9.68,"y":32.5},{"s":"O 2p","x":-9.6,"y":26},{"s":"O 2p","x":-9.54,"y":17.5},{"s":"O 2p","x":-9.47,"y":22},{"s":"O 2p","x":-9.41,"y":34},{"s":"O 2p","x":-9.35,"y":27},{"s":"O 2p","x":-9.28,"y":16},{"s":"O 2p","x":-9.2,"y":20},{"s":"O 2p","x":-9.1,"y":29},{"s":"O 2p","x":-9.03,"y":22},{"s":"O 2p","x":-8.97,"y":14},{"s":"O 2p","x":-8.9,"y":11.5},{"s":"O 2p","x":-8.84,"y":10.5},{"s":"O 2p","x":-8.78,"y":30},{"s":"O 2p","x":-8.72,"y":70},{"s":"O 2p","x":-8.69,"y":89},{"s":"O 2p","x":-8.65,"y":75},{"s":"O 2p","x":-8.6,"y":64},{"s":"O 2p","x":-8.54,"y":66},{"s":"O 2p","x":-8.48,"y":67.5},{"s":"O 2p","x":-8.43,"y":74},{"s":"O 2p","x":-8.38,"y":81},{"s":"O 2p","x":-8.33,"y":72},{"s":"O 2p","x":-8.28,"y":57.5},{"s":"O 2p","x":-8.2,"y":53},{"s":"O 2p","x":-8.09,"y":47.5},{"s":"O 2p","x":-7.95,"y":44},{"s":"O 2p","x":-7.82,"y":41},{"s":"O 2p","x":-7.7,"y":39.5},{"s":"O 2p","x":-7.55,"y":37.5},{"s":"O 2p","x":-7.4,"y":35.5},{"s":"O 2p","x":-7.29,"y":34},{"s":"O 2p","x":-7.15,"y":29},{"s":"O 2p","x":-7.02,"y":22.5},{"s":"O 2p","x":-6.9,"y":15},{"s":"O 2p","x":-6.76,"y":7.5},{"s":"O 2p","x":-6.6,"y":4.5},{"s":"O 2p","x":-6.4,"y":3},{"s":"O 2p","x":-6.2,"y":1.5},{"s":"O 2p","x":-6.05,"y":0.3},{"s":"O 2p","x":-5.8,"y":0},{"s":"O 2p","x":-1.5,"y":0},{"s":"O 2p","x":-1.2,"y":2},{"s":"O 2p","x":-0.9,"y":3},{"s":"O 2p","x":-0.6,"y":3.5},{"s":"O 2p","x":-0.3,"y":2.5},{"s":"O 2p","x":0,"y":2},{"s":"O 2p","x":0.3,"y":3.5},{"s":"O 2p","x":0.6,"y":4},{"s":"O 2p","x":1.0,"y":3.5},
{"s":"V 3d","x":-13,"y":0},{"s":"V 3d","x":-11.0,"y":0},{"s":"V 3d","x":-10.5,"y":1},{"s":"V 3d","x":-10.2,"y":3},{"s":"V 3d","x":-10.04,"y":4.5},{"s":"V 3d","x":-9.8,"y":2.5},{"s":"V 3d","x":-9.5,"y":2},{"s":"V 3d","x":-9.1,"y":1.5},{"s":"V 3d","x":-8.8,"y":0.5},{"s":"V 3d","x":-8.76,"y":22},{"s":"V 3d","x":-8.66,"y":17},{"s":"V 3d","x":-8.55,"y":18},{"s":"V 3d","x":-8.4,"y":19.5},{"s":"V 3d","x":-8.3,"y":16},{"s":"V 3d","x":-8.17,"y":12.5},{"s":"V 3d","x":-8.0,"y":9.5},{"s":"V 3d","x":-7.82,"y":7.5},{"s":"V 3d","x":-7.6,"y":5.5},{"s":"V 3d","x":-7.38,"y":4},{"s":"V 3d","x":-7.1,"y":2.5},{"s":"V 3d","x":-6.9,"y":1.5},{"s":"V 3d","x":-6.5,"y":0.3},{"s":"V 3d","x":-6.0,"y":0},{"s":"V 3d","x":-4.3,"y":0},{"s":"V 3d","x":-4.0,"y":2},{"s":"V 3d","x":-3.83,"y":3},{"s":"V 3d","x":-3.6,"y":4},{"s":"V 3d","x":-3.39,"y":4.5},{"s":"V 3d","x":-3.2,"y":6},{"s":"V 3d","x":-3.03,"y":7.5},{"s":"V 3d","x":-2.92,"y":12},{"s":"V 3d","x":-2.8,"y":11},{"s":"V 3d","x":-2.65,"y":13},{"s":"V 3d","x":-2.5,"y":12.5},{"s":"V 3d","x":-2.35,"y":14},{"s":"V 3d","x":-2.2,"y":14.5},{"s":"V 3d","x":-2.06,"y":16},{"s":"V 3d","x":-1.9,"y":18},{"s":"V 3d","x":-1.75,"y":19.5},{"s":"V 3d","x":-1.61,"y":22.5},{"s":"V 3d","x":-1.45,"y":25},{"s":"V 3d","x":-1.3,"y":28},{"s":"V 3d","x":-1.17,"y":31},{"s":"V 3d","x":-1.0,"y":34},{"s":"V 3d","x":-0.85,"y":38},{"s":"V 3d","x":-0.73,"y":41},{"s":"V 3d","x":-0.6,"y":46},{"s":"V 3d","x":-0.45,"y":51},{"s":"V 3d","x":-0.37,"y":54},{"s":"V 3d","x":-0.25,"y":60},{"s":"V 3d","x":-0.11,"y":67},{"s":"V 3d","x":0.0,"y":78},{"s":"V 3d","x":0.1,"y":90},{"s":"V 3d","x":0.2,"y":100},{"s":"V 3d","x":0.3,"y":106},{"s":"V 3d","x":0.38,"y":100},{"s":"V 3d","x":0.45,"y":86},{"s":"V 3d","x":0.55,"y":81},{"s":"V 3d","x":0.62,"y":75},{"s":"V 3d","x":0.7,"y":66},{"s":"V 3d","x":0.8,"y":70},{"s":"V 3d","x":0.9,"y":62},{"s":"V 3d","x":1.0,"y":58}
],
"e":[
{"s":"O 2p","x":-13,"y":0},{"s":"O 2p","x":-9.5,"y":0},{"s":"O 2p","x":-9.16,"y":3.3},{"s":"O 2p","x":-8.8,"y":10},{"s":"O 2p","x":-8.52,"y":16.8},{"s":"O 2p","x":-8.25,"y":25.1},{"s":"O 2p","x":-8.07,"y":31.8},{"s":"O 2p","x":-7.94,"y":38.5},{"s":"O 2p","x":-7.85,"y":28.5},{"s":"O 2p","x":-7.73,"y":33.5},{"s":"O 2p","x":-7.62,"y":21.8},{"s":"O 2p","x":-7.48,"y":17.8},{"s":"O 2p","x":-7.35,"y":36.9},{"s":"O 2p","x":-7.26,"y":46.9},{"s":"O 2p","x":-7.17,"y":31.8},{"s":"O 2p","x":-7.08,"y":45.2},{"s":"O 2p","x":-6.99,"y":98.8},{"s":"O 2p","x":-6.91,"y":92.1},{"s":"O 2p","x":-6.85,"y":98.8},{"s":"O 2p","x":-6.79,"y":85.4},{"s":"O 2p","x":-6.67,"y":93.8},{"s":"O 2p","x":-6.54,"y":75.4},{"s":"O 2p","x":-6.4,"y":64},{"s":"O 2p","x":-6.26,"y":55.3},{"s":"O 2p","x":-6.12,"y":47},{"s":"O 2p","x":-5.99,"y":40.2},{"s":"O 2p","x":-5.85,"y":33},{"s":"O 2p","x":-5.72,"y":26.8},{"s":"O 2p","x":-5.58,"y":20},{"s":"O 2p","x":-5.45,"y":13.4},{"s":"O 2p","x":-5.3,"y":7},{"s":"O 2p","x":-5.22,"y":3.3},{"s":"O 2p","x":-5.09,"y":0},{"s":"O 2p","x":-3.5,"y":0},{"s":"O 2p","x":-3.19,"y":0.7},{"s":"O 2p","x":-1.38,"y":2.3},{"s":"O 2p","x":-0.7,"y":4},{"s":"O 2p","x":-0.61,"y":9},{"s":"O 2p","x":-0.52,"y":2},{"s":"O 2p","x":-0.34,"y":0.3},{"s":"O 2p","x":0,"y":0},{"s":"O 2p","x":1,"y":0},
{"s":"Ti 4s","x":-13,"y":0},{"s":"Ti 4s","x":-9.47,"y":0},{"s":"Ti 4s","x":-9.25,"y":6.7},{"s":"Ti 4s","x":-8.89,"y":15.1},{"s":"Ti 4s","x":-8.61,"y":26.8},{"s":"Ti 4s","x":-8.34,"y":29.1},{"s":"Ti 4s","x":-8.16,"y":35.8},{"s":"Ti 4s","x":-7.98,"y":31.8},{"s":"Ti 4s","x":-7.8,"y":23.5},{"s":"Ti 4s","x":-7.62,"y":15.1},{"s":"Ti 4s","x":-7.35,"y":8.4},{"s":"Ti 4s","x":-6.99,"y":5},{"s":"Ti 4s","x":-6.63,"y":3.3},{"s":"Ti 4s","x":-6.08,"y":1},{"s":"Ti 4s","x":-5.7,"y":0},{"s":"Ti 4s","x":1,"y":0},
{"s":"Ti 3d","x":-13,"y":0},{"s":"Ti 3d","x":-9.5,"y":0},{"s":"Ti 3d","x":-9.07,"y":1.7},{"s":"Ti 3d","x":-8.61,"y":2.7},{"s":"Ti 3d","x":-8.07,"y":3.7},{"s":"Ti 3d","x":-7.85,"y":3},{"s":"Ti 3d","x":-7.71,"y":2.2},{"s":"Ti 3d","x":-7.44,"y":1.7},{"s":"Ti 3d","x":-7.33,"y":6},{"s":"Ti 3d","x":-7.26,"y":10},{"s":"Ti 3d","x":-7.19,"y":8},{"s":"Ti 3d","x":-7.12,"y":6.7},{"s":"Ti 3d","x":-7.05,"y":10},{"s":"Ti 3d","x":-6.99,"y":15.7},{"s":"Ti 3d","x":-6.9,"y":14},{"s":"Ti 3d","x":-6.81,"y":13.4},{"s":"Ti 3d","x":-6.74,"y":14.5},{"s":"Ti 3d","x":-6.67,"y":13.4},{"s":"Ti 3d","x":-6.55,"y":11},{"s":"Ti 3d","x":-6.44,"y":8.4},{"s":"Ti 3d","x":-6.25,"y":5.5},{"s":"Ti 3d","x":-6.08,"y":3.3},{"s":"Ti 3d","x":-5.85,"y":2},{"s":"Ti 3d","x":-5.63,"y":1},{"s":"Ti 3d","x":-5.3,"y":0.2},{"s":"Ti 3d","x":-4.1,"y":0},{"s":"Ti 3d","x":-3.64,"y":1.7},{"s":"Ti 3d","x":-3.19,"y":3.3},{"s":"Ti 3d","x":-2.74,"y":5.7},{"s":"Ti 3d","x":-2.5,"y":8},{"s":"Ti 3d","x":-2.29,"y":10.7},{"s":"Ti 3d","x":-2.05,"y":11.5},{"s":"Ti 3d","x":-1.83,"y":12.4},{"s":"Ti 3d","x":-1.6,"y":14.5},{"s":"Ti 3d","x":-1.38,"y":18.4},{"s":"Ti 3d","x":-1.15,"y":22},{"s":"Ti 3d","x":-0.93,"y":30.2},{"s":"Ti 3d","x":-0.8,"y":31.5},{"s":"Ti 3d","x":-0.7,"y":35.2},{"s":"Ti 3d","x":-0.62,"y":41.9},{"s":"Ti 3d","x":-0.56,"y":67},{"s":"Ti 3d","x":-0.5,"y":41.9},{"s":"Ti 3d","x":-0.4,"y":18.4},{"s":"Ti 3d","x":-0.25,"y":5},{"s":"Ti 3d","x":-0.12,"y":0},{"s":"Ti 3d","x":0.02,"y":3},{"s":"Ti 3d","x":0.11,"y":1},{"s":"Ti 3d","x":0.2,"y":12.4},{"s":"Ti 3d","x":0.29,"y":8.4},{"s":"Ti 3d","x":0.43,"y":10},{"s":"Ti 3d","x":0.7,"y":9},{"s":"Ti 3d","x":0.92,"y":10.7},{"s":"Ti 3d","x":1.0,"y":10.5}
],
"f":[
{"s":"O 2p","x":-13,"y":0},{"s":"O 2p","x":-10.21,"y":0},{"s":"O 2p","x":-9.95,"y":6},{"s":"O 2p","x":-9.59,"y":12.8},{"s":"O 2p","x":-9.33,"y":19.5},{"s":"O 2p","x":-9.06,"y":32},{"s":"O 2p","x":-8.79,"y":38},{"s":"O 2p","x":-8.66,"y":49.8},{"s":"O 2p","x":-8.57,"y":38},{"s":"O 2p","x":-8.44,"y":31.3},{"s":"O 2p","x":-8.31,"y":36.4},{"s":"O 2p","x":-8.22,"y":40.7},{"s":"O 2p","x":-8.13,"y":27.9},{"s":"O 2p","x":-8.0,"y":8.4},{"s":"O 2p","x":-7.91,"y":7.7},{"s":"O 2p","x":-7.82,"y":21.2},{"s":"O 2p","x":-7.71,"y":58.3},{"s":"O 2p","x":-7.64,"y":108.8},{"s":"O 2p","x":-7.55,"y":71.7},{"s":"O 2p","x":-7.46,"y":58.3},{"s":"O 2p","x":-7.38,"y":81.8},{"s":"O 2p","x":-7.27,"y":108.8},{"s":"O 2p","x":-7.16,"y":75.1},{"s":"O 2p","x":-6.93,"y":54.9},{"s":"O 2p","x":-6.58,"y":38},{"s":"O 2p","x":-6.22,"y":27.9},{"s":"O 2p","x":-5.96,"y":19.5},{"s":"O 2p","x":-5.69,"y":9.4},{"s":"O 2p","x":-5.43,"y":2.7},{"s":"O 2p","x":-5.16,"y":0},{"s":"O 2p","x":-4.27,"y":0},{"s":"O 2p","x":-2.5,"y":1.7},{"s":"O 2p","x":-1.61,"y":4.4},{"s":"O 2p","x":-1.26,"y":7.7},{"s":"O 2p","x":-1.13,"y":13.8},{"s":"O 2p","x":-0.95,"y":11.1},{"s":"O 2p","x":-0.73,"y":9.4},{"s":"O 2p","x":-0.51,"y":1},{"s":"O 2p","x":-0.28,"y":0},{"s":"O 2p","x":1,"y":0},
{"s":"V 4s","x":-13,"y":0},{"s":"V 4s","x":-10.21,"y":0},{"s":"V 4s","x":-9.95,"y":9.4},{"s":"V 4s","x":-9.59,"y":19.5},{"s":"V 4s","x":-9.33,"y":29.6},{"s":"V 4s","x":-9.1,"y":43.1},{"s":"V 4s","x":-8.88,"y":43.1},{"s":"V 4s","x":-8.66,"y":45.5},{"s":"V 4s","x":-8.53,"y":34.7},{"s":"V 4s","x":-8.31,"y":19.5},{"s":"V 4s","x":-8.04,"y":6},{"s":"V 4s","x":-7.82,"y":5},{"s":"V 4s","x":-7.38,"y":4.4},{"s":"V 4s","x":-6.76,"y":2.7},{"s":"V 4s","x":-6.05,"y":1},{"s":"V 4s","x":-5.6,"y":0},{"s":"V 4s","x":1,"y":0},
{"s":"V 3d","x":-13,"y":0},{"s":"V 3d","x":-10.21,"y":0},{"s":"V 3d","x":-9.95,"y":1.7},{"s":"V 3d","x":-9.41,"y":5},{"s":"V 3d","x":-8.97,"y":6.4},{"s":"V 3d","x":-8.66,"y":7.7},{"s":"V 3d","x":-8.35,"y":4.4},{"s":"V 3d","x":-8.04,"y":1},{"s":"V 3d","x":-7.91,"y":6},{"s":"V 3d","x":-7.77,"y":14.5},{"s":"V 3d","x":-7.64,"y":26.9},{"s":"V 3d","x":-7.51,"y":19.5},{"s":"V 3d","x":-7.29,"y":31.3},{"s":"V 3d","x":-7.11,"y":22.9},{"s":"V 3d","x":-6.84,"y":15.2},{"s":"V 3d","x":-6.49,"y":9.4},{"s":"V 3d","x":-6.05,"y":5},{"s":"V 3d","x":-5.6,"y":2},{"s":"V 3d","x":-5.16,"y":0},{"s":"V 3d","x":-4.27,"y":0},{"s":"V 3d","x":-3.83,"y":2.7},{"s":"V 3d","x":-3.39,"y":6},{"s":"V 3d","x":-2.94,"y":9.4},{"s":"V 3d","x":-2.5,"y":17.8},{"s":"V 3d","x":-2.15,"y":22.9},{"s":"V 3d","x":-1.97,"y":38},{"s":"V 3d","x":-1.7,"y":53.2},{"s":"V 3d","x":-1.52,"y":59.9},{"s":"V 3d","x":-1.35,"y":61.6},{"s":"V 3d","x":-1.26,"y":56.6},{"s":"V 3d","x":-1.13,"y":81.8},{"s":"V 3d","x":-0.99,"y":76.8},{"s":"V 3d","x":-0.86,"y":81.8},{"s":"V 3d","x":-0.73,"y":66.7},{"s":"V 3d","x":-0.59,"y":61.6},{"s":"V 3d","x":-0.55,"y":22.9},{"s":"V 3d","x":-0.42,"y":27.9},{"s":"V 3d","x":-0.33,"y":22.9},{"s":"V 3d","x":-0.28,"y":0},{"s":"V 3d","x":-0.02,"y":0},{"s":"V 3d","x":0.25,"y":2.7},{"s":"V 3d","x":0.69,"y":4.4},{"s":"V 3d","x":1.0,"y":5}
]
},
"concat":[
{"width":543,"height":175,
"layer":[
{"data":{"name":"a"},"mark":{"type":"line","strokeWidth":2.5,"clip":true},
"encoding":{"x":{"field":"x","type":"quantitative","scale":{"domain":[-13,1],"nice":false,"zero":false},"axis":{"orient":"bottom","values":[-13,-12,-11,-10,-9,-8,-7,-6,-5,-4,-3,-2,-1,0,1],"labels":false,"title":null,"tickSize":{"condition":{"test":"datum.value % 2 === 0","value":-8},"value":-5}}},
"y":{"field":"y","type":"quantitative","scale":{"domain":[0,175],"nice":false,"zero":true},"axis":null},
"color":{"field":"s","type":"nominal","scale":{"domain":["TiO₀.₉₃","TiO₁.₀₆","TiO₁.₁₀","TiO₁.₂₈"],"range":["#1f8c1f","#a3e34b","#e8aa3a","#ff2020"]},"legend":{"orient":"none","legendX":288,"legendY":6.7,"title":null,"symbolType":"stroke","symbolSize":900,"symbolStrokeWidth":3,"labelFontSize":20,"labelOffset":15,"rowPadding":3}}}},
{"data":{"name":"notes"},"transform":[{"filter":"datum.p==='a' && datum.k==='title'"}],"mark":{"type":"text","align":"left","baseline":"middle","fontSize":20.5,"font":"Liberation Sans"},
"encoding":{"x":{"field":"x","type":"quantitative","axis":{"orient":"top","values":[-13,-12,-11,-10,-9,-8,-7,-6,-5,-4,-3,-2,-1,0,1],"labels":false,"title":null,"tickSize":{"condition":{"test":"datum.value % 2 === 0","value":-8},"value":-5}}},"y":{"field":"y","type":"quantitative","axis":null},"text":{"field":"t"}}},
{"data":{"name":"notes"},"transform":[{"filter":"datum.p==='a' && datum.k==='greek'"}],"mark":{"type":"text","align":"center","baseline":"middle","fontSize":23,"font":"Liberation Serif"},
"encoding":{"x":{"field":"x","type":"quantitative","axis":{"orient":"top","values":[-12,-10,-8,-6,-4,-2,0],"ticks":false,"labelExpr":"datum.value === 0 ? '0' : '' + (-datum.value)","labelPadding":7,"labelFlush":false,"labelOverlap":false,"title":"Binding energy (eV)","titlePadding":9}},"y":{"field":"y","type":"quantitative","axis":null},"text":{"field":"t"}}}
],
"resolve":{"axis":{"x":"independent"}}},
{"width":543,"height":175,
"layer":[
{"data":{"name":"b"},"mark":{"type":"line","strokeWidth":2.5,"clip":true},
"encoding":{"x":{"field":"x","type":"quantitative","scale":{"domain":[-13,1],"nice":false,"zero":false},"axis":{"orient":"bottom","values":[-13,-12,-11,-10,-9,-8,-7,-6,-5,-4,-3,-2,-1,0,1],"labels":false,"title":null,"tickSize":{"condition":{"test":"datum.value % 2 === 0","value":-8},"value":-5}}},
"y":{"field":"y","type":"quantitative","scale":{"domain":[0,175],"nice":false,"zero":true},"axis":null},
"color":{"field":"s","type":"nominal","scale":{"domain":["VO₁.₀₀","VO₁.₁₅","VO₁.₃₀"],"range":["#a020c4","#1a1aa0","#1ea5f5"]},"legend":{"orient":"none","legendX":441,"legendY":16,"title":null,"symbolType":"stroke","symbolSize":900,"symbolStrokeWidth":3,"labelFontSize":20,"labelOffset":6,"rowPadding":3}}}},
{"data":{"name":"notes"},"transform":[{"filter":"datum.p==='b' && datum.k==='title'"}],"mark":{"type":"text","align":"left","baseline":"middle","fontSize":20.5,"font":"Liberation Sans"},
"encoding":{"x":{"field":"x","type":"quantitative","axis":{"orient":"top","values":[-13,-12,-11,-10,-9,-8,-7,-6,-5,-4,-3,-2,-1,0,1],"labels":false,"title":null,"tickSize":{"condition":{"test":"datum.value % 2 === 0","value":-8},"value":-5}}},"y":{"field":"y","type":"quantitative","axis":null},"text":{"field":"t"}}},
{"data":{"name":"notes"},"transform":[{"filter":"datum.p==='b' && datum.k==='greek'"}],"mark":{"type":"text","align":"center","baseline":"middle","fontSize":23,"font":"Liberation Serif"},
"encoding":{"x":{"field":"x","type":"quantitative","axis":{"orient":"top","values":[-12,-10,-8,-6,-4,-2,0],"ticks":false,"labelExpr":"datum.value === 0 ? '0' : '' + (-datum.value)","labelPadding":7,"labelFlush":false,"labelOverlap":false,"title":"Binding energy (eV)","titlePadding":4}},"y":{"field":"y","type":"quantitative","axis":null},"text":{"field":"t"}}}
],
"resolve":{"axis":{"x":"independent"}}},
{"width":543,"height":136,
"layer":[
{"data":{"name":"c"},"mark":{"type":"line","strokeWidth":2.6,"clip":true},
"encoding":{"x":{"field":"x","type":"quantitative","scale":{"domain":[-13,1],"nice":false,"zero":false},"axis":{"orient":"bottom","values":[-13,-12,-11,-10,-9,-8,-7,-6,-5,-4,-3,-2,-1,0,1],"labels":false,"title":null,"tickSize":{"condition":{"test":"datum.value % 2 === 0","value":-8},"value":-5}}},
"y":{"field":"y","type":"quantitative","scale":{"domain":[0,136],"nice":false,"zero":true},"axis":null},
"color":{"field":"s","type":"nominal","scale":{"domain":["Ti 3d","O 2p","Ti 4s x 10","Ti 4s next to"],"range":["#1414f0","#f08c3c","#28e628","#28e628"]},"legend":{"orient":"none","legendX":268,"legendY":10,"title":"PDOS per site","titleFontSize":17,"titlePadding":-3,"symbolType":"stroke","symbolSize":500,"symbolStrokeWidth":3,"symbolOffset":9,"labelFontSize":17,"labelOffset":10,"rowPadding":1.2}},
"strokeDash":{"field":"s","type":"nominal","scale":{"domain":["Ti 3d","O 2p","Ti 4s x 10","Ti 4s next to"],"range":[[1,0],[1,0],[1,0],[7,5]]},"legend":{"orient":"none","legendX":268,"legendY":10,"title":"PDOS per site","titleFontSize":17,"titlePadding":-3,"symbolType":"stroke","symbolSize":500,"symbolStrokeWidth":3,"symbolOffset":9,"labelFontSize":17,"labelOffset":10,"rowPadding":1.2}}}},
{"data":{"name":"notes"},"transform":[{"filter":"datum.p==='c' && datum.k==='title'"}],"mark":{"type":"text","align":"left","baseline":"middle","fontSize":20.5,"font":"Liberation Sans"},
"encoding":{"x":{"field":"x","type":"quantitative","axis":{"orient":"top","values":[-13,-12,-11,-10,-9,-8,-7,-6,-5,-4,-3,-2,-1,0,1],"labels":false,"title":null,"tickSize":{"condition":{"test":"datum.value % 2 === 0","value":-8},"value":-5}}},"y":{"field":"y","type":"quantitative","axis":null},"text":{"field":"t"}}},
{"data":{"name":"notes"},"transform":[{"filter":"datum.p==='c' && datum.k==='note'"}],"mark":{"type":"text","align":"left","baseline":"middle","fontSize":17,"font":"Liberation Sans"},
"encoding":{"x":{"field":"x","type":"quantitative","axis":null},"y":{"field":"y","type":"quantitative","axis":null},"text":{"field":"t"}}}
],
"resolve":{"axis":{"x":"independent"}}},
{"width":543,"height":136,
"layer":[
{"data":{"name":"d"},"mark":{"type":"line","strokeWidth":2.6,"clip":true},
"encoding":{"x":{"field":"x","type":"quantitative","scale":{"domain":[-13,1],"nice":false,"zero":false},"axis":{"orient":"bottom","values":[-13,-12,-11,-10,-9,-8,-7,-6,-5,-4,-3,-2,-1,0,1],"labels":false,"title":null,"tickSize":{"condition":{"test":"datum.value % 2 === 0","value":-8},"value":-5}}},
"y":{"field":"y","type":"quantitative","scale":{"domain":[0,136],"nice":false,"zero":true},"axis":null},
"color":{"field":"s","type":"nominal","scale":{"domain":["V 3d","V 4s x10","O 2p","V 4s next to"],"range":["#1414f0","#28e628","#ff8a0a","#28e628"]},"legend":{"orient":"none","legendX":248,"legendY":10,"title":"PDOS per site","titleFontSize":17,"titlePadding":-2.5,"symbolType":"stroke","symbolSize":500,"symbolStrokeWidth":3,"symbolOffset":5,"labelFontSize":17,"labelOffset":12,"rowPadding":0.5}},
"strokeDash":{"field":"s","type":"nominal","scale":{"domain":["V 3d","V 4s x10","O 2p","V 4s next to"],"range":[[1,0],[1,0],[1,0],[7,5]]},"legend":{"orient":"none","legendX":248,"legendY":10,"title":"PDOS per site","titleFontSize":17,"titlePadding":-2.5,"symbolType":"stroke","symbolSize":500,"symbolStrokeWidth":3,"symbolOffset":5,"labelFontSize":17,"labelOffset":12,"rowPadding":0.5}}}},
{"data":{"name":"notes"},"transform":[{"filter":"datum.p==='d' && datum.k==='title'"}],"mark":{"type":"text","align":"left","baseline":"middle","fontSize":20.5,"font":"Liberation Sans"},
"encoding":{"x":{"field":"x","type":"quantitative","axis":{"orient":"top","values":[-13,-12,-11,-10,-9,-8,-7,-6,-5,-4,-3,-2,-1,0,1],"labels":false,"title":null,"tickSize":{"condition":{"test":"datum.value % 2 === 0","value":-8},"value":-5}}},"y":{"field":"y","type":"quantitative","axis":null},"text":{"field":"t"}}},
{"data":{"name":"notes"},"transform":[{"filter":"datum.p==='d' && datum.k==='note'"}],"mark":{"type":"text","align":"left","baseline":"middle","fontSize":17,"font":"Liberation Sans"},
"encoding":{"x":{"field":"x","type":"quantitative","axis":null},"y":{"field":"y","type":"quantitative","axis":null},"text":{"field":"t"}}}
],
"resolve":{"axis":{"x":"independent"}}},
{"width":543,"height":135,
"layer":[
{"data":{"name":"e"},"mark":{"type":"line","strokeWidth":2.6,"clip":true},
"encoding":{"x":{"field":"x","type":"quantitative","scale":{"domain":[-13,1],"nice":false,"zero":false},"axis":{"orient":"bottom","values":[-13,-12,-11,-10,-9,-8,-7,-6,-5,-4,-3,-2,-1,0,1],"labels":false,"title":null,"tickSize":{"condition":{"test":"datum.value % 2 === 0","value":-8},"value":-5}}},
"y":{"field":"y","type":"quantitative","scale":{"domain":[0,135],"nice":false,"zero":true},"axis":null},
"color":{"field":"s","type":"nominal","scale":{"domain":["Ti 3d","O 2p","Ti 4s"],"range":["#1414f0","#f08c3c","#28e628"]},"legend":null}}},
{"data":{"name":"notes"},"transform":[{"filter":"datum.p==='e' && datum.k==='title'"}],"mark":{"type":"text","align":"left","baseline":"middle","fontSize":20.5,"font":"Liberation Sans"},
"encoding":{"x":{"field":"x","type":"quantitative","axis":{"orient":"top","values":[-13,-12,-11,-10,-9,-8,-7,-6,-5,-4,-3,-2,-1,0,1],"labels":false,"title":null,"tickSize":{"condition":{"test":"datum.value % 2 === 0","value":-8},"value":-5}}},"y":{"field":"y","type":"quantitative","axis":null},"text":{"field":"t"}}},
{"data":{"name":"notes"},"transform":[{"filter":"datum.p==='e' && datum.k==='note'"}],"mark":{"type":"text","align":"left","baseline":"middle","fontSize":20.5,"font":"Liberation Sans"},
"encoding":{"x":{"field":"x","type":"quantitative","axis":{"orient":"bottom","values":[-12,-10,-8,-6,-4,-2,0],"ticks":false,"labelPadding":8,"labelFlush":false,"labelOverlap":false,"title":"Energy (eV)","titlePadding":3}},"y":{"field":"y","type":"quantitative","axis":null},"text":{"field":"t"}}}
],
"resolve":{"axis":{"x":"independent"}}},
{"width":543,"height":135,
"layer":[
{"data":{"name":"f"},"mark":{"type":"line","strokeWidth":2.6,"clip":true},
"encoding":{"x":{"field":"x","type":"quantitative","scale":{"domain":[-13,1],"nice":false,"zero":false},"axis":{"orient":"bottom","values":[-13,-12,-11,-10,-9,-8,-7,-6,-5,-4,-3,-2,-1,0,1],"labels":false,"title":null,"tickSize":{"condition":{"test":"datum.value % 2 === 0","value":-8},"value":-5}}},
"y":{"field":"y","type":"quantitative","scale":{"domain":[0,135],"nice":false,"zero":true},"axis":null},
"color":{"field":"s","type":"nominal","scale":{"domain":["V 3d","O 2p","V 4s"],"range":["#1414f0","#ff8a0a","#28e628"]},"legend":null}}},
{"data":{"name":"notes"},"transform":[{"filter":"datum.p==='f' && datum.k==='title'"}],"mark":{"type":"text","align":"left","baseline":"middle","fontSize":20.5,"font":"Liberation Sans"},
"encoding":{"x":{"field":"x","type":"quantitative","axis":{"orient":"top","values":[-13,-12,-11,-10,-9,-8,-7,-6,-5,-4,-3,-2,-1,0,1],"labels":false,"title":null,"tickSize":{"condition":{"test":"datum.value % 2 === 0","value":-8},"value":-5}}},"y":{"field":"y","type":"quantitative","axis":null},"text":{"field":"t"}}},
{"data":{"name":"notes"},"transform":[{"filter":"datum.p==='f' && datum.k==='note'"}],"mark":{"type":"text","align":"left","baseline":"middle","fontSize":20.5,"font":"Liberation Sans"},
"encoding":{"x":{"field":"x","type":"quantitative","axis":{"orient":"bottom","values":[-12,-10,-8,-6,-4,-2,0],"ticks":false,"labelPadding":8,"labelFlush":false,"labelOverlap":false,"title":"Energy (eV)","titlePadding":3}},"y":{"field":"y","type":"quantitative","axis":null},"text":{"field":"t"}}}
],
"resolve":{"axis":{"x":"independent"}}}
],
"columns":2,
"spacing":{"row":0,"column":7},
"bounds":"flush",
"resolve":{"scale":{"color":"independent","strokeDash":"independent"}}
}
